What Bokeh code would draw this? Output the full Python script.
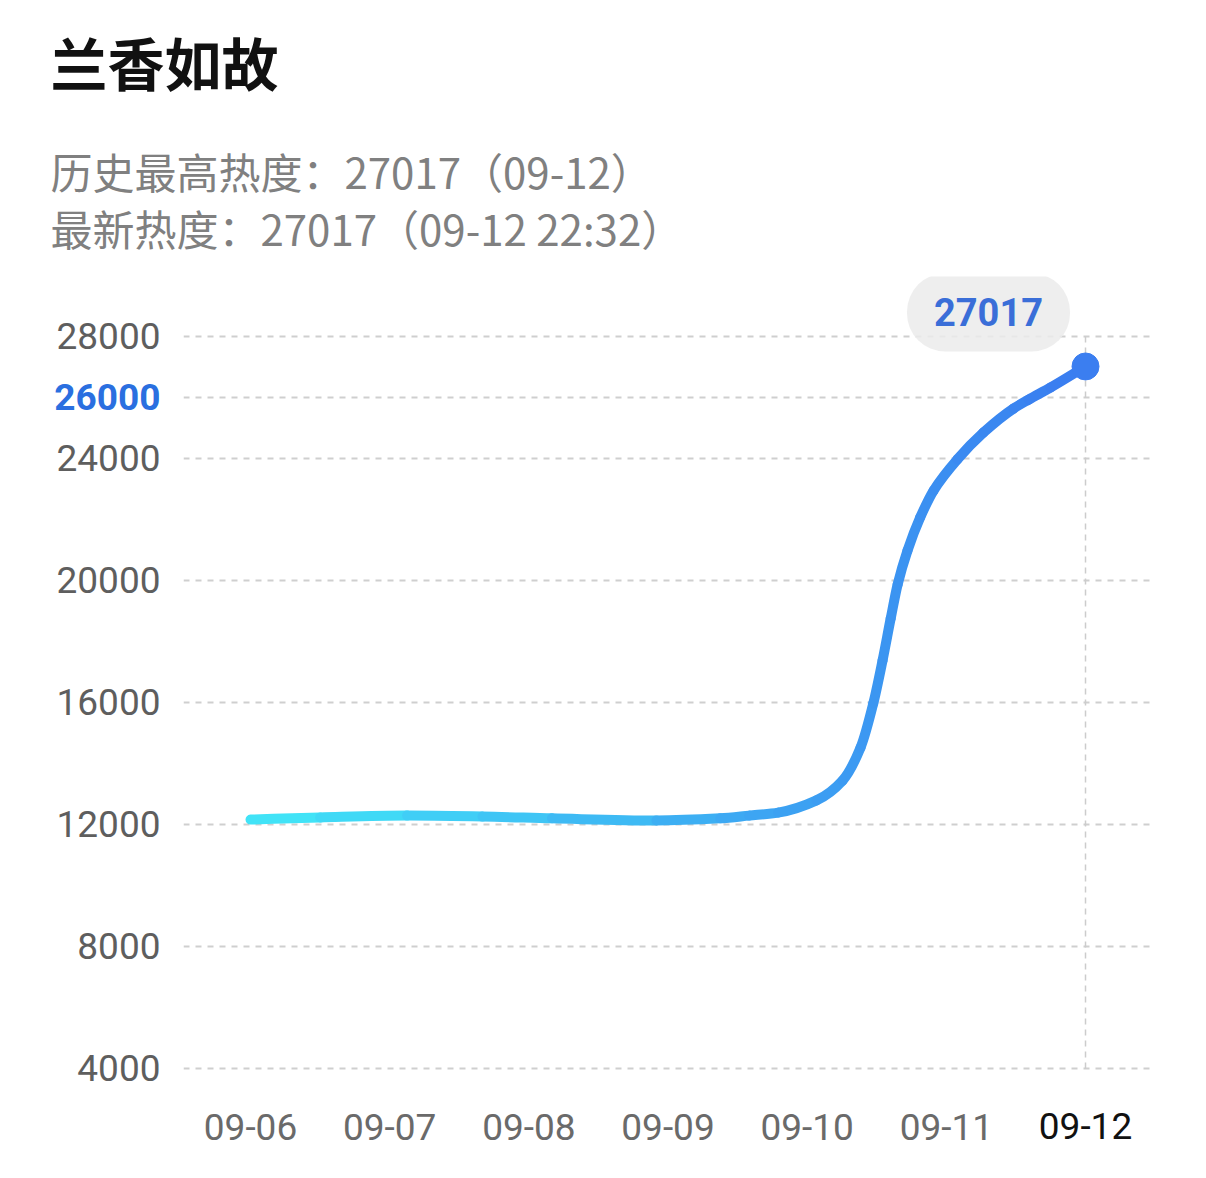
from bokeh.plotting import figure
from bokeh.models import FixedTicker, Label, Title, Range1d, LinearAxis
from bokeh.embed import file_html
from bokeh.resources import INLINE

# ---------------- data ----------------
title_text = "兰香如故"
peak_text = "历史最高热度：27017（09-12）"
latest_text = "最新热度：27017（09-12 22:32）"

day_labels = ["09-06", "09-07", "09-08", "09-09", "09-10", "09-11", "09-12"]
# hours since 09-06 00:00
hours = [0, 12, 27, 40, 52, 70, 81, 86, 91, 97.6, 102.1, 105.2, 107.4, 109.0,
         110.4, 111.6, 113.3, 115.5, 117.8, 121.9, 126.4, 131.6, 134.2, 138.0, 144.0]
heat = [12160, 12230, 12290, 12260, 12200, 12130, 12200, 12290, 12390, 12790,
        13440, 14520, 15970, 17380, 18750, 19870, 20980, 22070, 22950, 23970,
        24850, 25640, 25930, 26330, 27017]
y_ticks = [4000, 8000, 12000, 16000, 20000, 24000, 26000, 28000]
highlight_tick = 26000
latest_value = 27017

# ---------------- styles ----------------
CJK = "Noto Sans CJK SC"
NUM = "Roboto"
c_start = (66, 232, 248)
c_end = (58, 124, 240)

x = [h / 24.0 for h in hours]
last_x = len(day_labels) - 1

p = figure(width=1190, height=1162,
           x_range=Range1d(-0.4815, 6.467), y_range=Range1d(3900, 29967),
           output_backend="svg", toolbar_location=None, title=None,
           min_border_left=183, min_border_right=40,
           min_border_top=276, min_border_bottom=91,
           background_fill_color="white", border_fill_color="white",
           outline_line_color=None)

# grid
p.xgrid.visible = False
p.ygrid.grid_line_color = "#cfcfcf"
p.ygrid.grid_line_dash = "6 6"
p.ygrid.grid_line_width = 2

# main y axis
ya = p.yaxis[0]
ya.ticker = FixedTicker(ticks=y_ticks)
ya.major_label_overrides = {highlight_tick: " "}
ya.axis_line_color = None
ya.major_tick_line_color = None
ya.minor_tick_line_color = None
ya.major_tick_out = 0
ya.major_label_standoff = 23
ya.major_label_text_font = NUM
ya.major_label_text_font_size = "37px"
ya.major_label_text_color = "#5e5e5e"

# highlighted y tick (outer axis pulled back onto the same column)
ya2 = LinearAxis(ticker=FixedTicker(ticks=[highlight_tick]),
                 axis_line_color=None, major_tick_line_color=None,
                 minor_tick_line_color=None, major_tick_out=0,
                 major_label_standoff=-107,
                 major_label_text_font=NUM, major_label_text_font_size="37px",
                 major_label_text_font_style="bold",
                 major_label_text_color="#2a6fe0")
p.add_layout(ya2, "left")

# main x axis
xa = p.xaxis[0]
xa.ticker = FixedTicker(ticks=list(range(len(day_labels))))
ov = {i: lab for i, lab in enumerate(day_labels)}
ov[last_x] = " "
xa.major_label_overrides = ov
xa.axis_line_color = None
xa.major_tick_line_color = None
xa.minor_tick_line_color = None
xa.major_tick_out = 0
xa.major_label_standoff = 34
xa.major_label_text_font = NUM
xa.major_label_text_font_size = "37px"
xa.major_label_text_color = "#6a6a6a"

# highlighted x tick (outer axis pulled back onto the same row)
xa2 = LinearAxis(ticker=FixedTicker(ticks=[last_x]),
                 major_label_overrides={last_x: day_labels[last_x]},
                 axis_line_color=None, major_tick_line_color=None,
                 minor_tick_line_color=None, major_tick_out=0,
                 major_label_standoff=-39,
                 major_label_text_font=NUM, major_label_text_font_size="37px",
                 major_label_text_color="#111111")
p.add_layout(xa2, "below")

# vertical marker line
p.segment(x0=[last_x], y0=[y_ticks[0]], x1=[last_x], y1=[y_ticks[-1]],
          line_color="#cccccc", line_width=1.5, line_dash="6 5")

# smooth (monotone cubic) gradient line drawn as bezier pieces
n = len(x)
d = [(heat[i + 1] - heat[i]) / (x[i + 1] - x[i]) for i in range(n - 1)]
m = [0.0] * n
m[0] = d[0]
m[-1] = d[-1]
for i in range(1, n - 1):
    if d[i - 1] * d[i] <= 0:
        m[i] = 0.0
    else:
        w1 = 2 * (x[i + 1] - x[i]) + (x[i] - x[i - 1])
        w2 = (x[i + 1] - x[i]) + 2 * (x[i] - x[i - 1])
        m[i] = (w1 + w2) / (w1 / d[i - 1] + w2 / d[i])

bx0, by0, bx1, by1, cx0, cy0, cx1, cy1, cols = [], [], [], [], [], [], [], [], []
for i in range(n - 1):
    h = x[i + 1] - x[i]
    bx0.append(x[i]); by0.append(heat[i])
    bx1.append(x[i + 1]); by1.append(heat[i + 1])
    cx0.append(x[i] + h / 3); cy0.append(heat[i] + m[i] * h / 3)
    cx1.append(x[i + 1] - h / 3); cy1.append(heat[i + 1] - m[i + 1] * h / 3)
    t = ((x[i] + x[i + 1]) / 2) / last_x
    r = int(c_start[0] + (c_end[0] - c_start[0]) * t)
    g = int(c_start[1] + (c_end[1] - c_start[1]) * t)
    b = int(c_start[2] + (c_end[2] - c_start[2]) * t)
    cols.append("#%02x%02x%02x" % (r, g, b))
p.bezier(x0=bx0, y0=by0, x1=bx1, y1=by1, cx0=cx0, cy0=cy0, cx1=cx1, cy1=cy1,
         line_color=cols, line_width=10, line_cap="round")

# last point
p.scatter(x=[x[-1]], y=[heat[-1]], size=27, color="#3b7ef0")

# tooltip-like value box
p.add_layout(Label(x=x[-1], y=latest_value, x_offset=-97, y_offset=54,
                   text=str(latest_value), text_align="center", text_baseline="middle",
                   text_font=NUM, text_font_size="38px", text_font_style="bold",
                   text_color="#3a6ed8",
                   background_fill_color="#ebebeb", background_fill_alpha=0.85,
                   border_radius=38,
                   padding=dict(left=27, right=27, top=25, bottom=25)))

# header texts (first added sits closest to the plot)
p.add_layout(Title(text=peak_text + "\n" + latest_text, text_font=CJK,
                   text_font_size="42px", text_line_height=0.95,
                   text_font_style="normal", text_color="#808080",
                   align="left", offset=-133,
                   padding=dict(left=0, right=0, top=0, bottom=13)), "above")
p.add_layout(Title(text=title_text, text_font=CJK, text_font_size="57px",
                   text_font_style="bold", text_color="#111111",
                   align="left", offset=-133,
                   padding=dict(left=0, right=0, top=0, bottom=26)), "above")

open("out.html", "w").write(file_html(p, INLINE))
